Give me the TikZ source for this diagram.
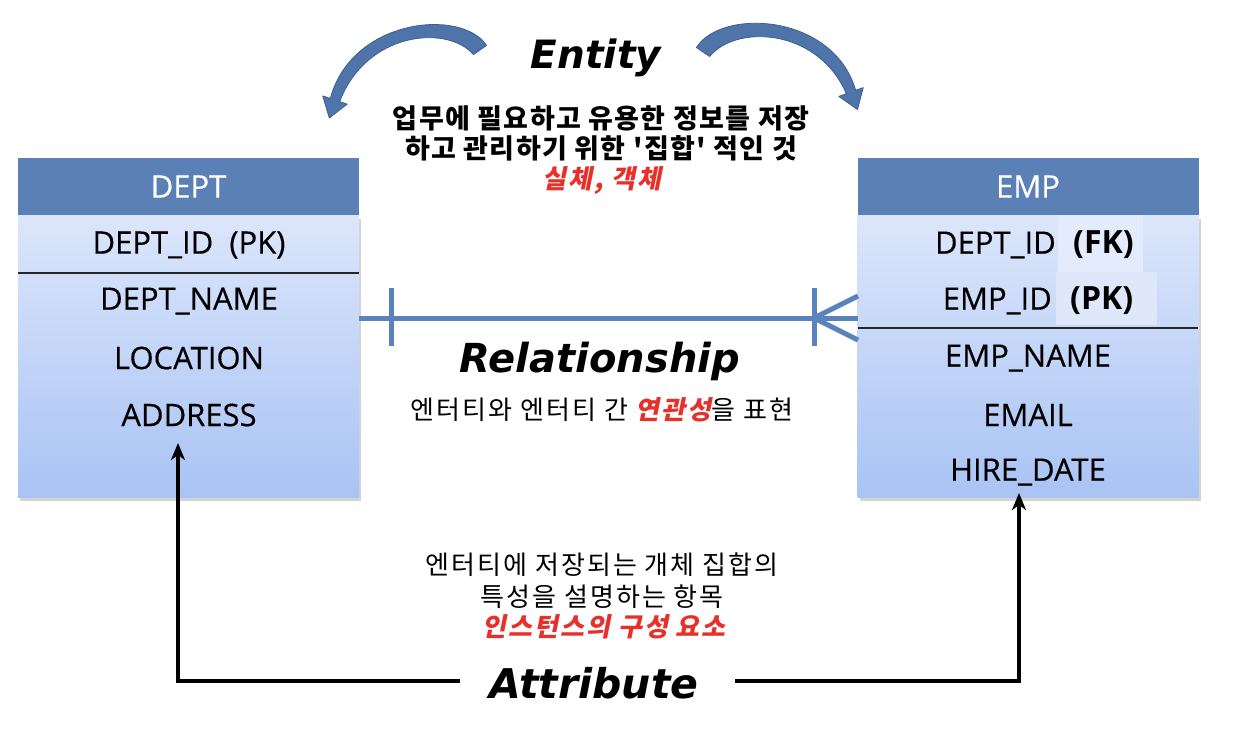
\documentclass[tikz,border=0pt]{standalone}
\usepackage{fontspec}
\setmainfont{Open Sans}
\newfontfamily\rowfont{Open Sans}[FakeBold=0.4]
\newfontfamily\bigfont{DejaVu Sans}
\newfontfamily\kr{Noto Sans CJK KR}[LetterSpace=8]
\newfontfamily\krb{Noto Sans CJK KR}[LetterSpace=5]
\newfontfamily\krsl{Noto Sans CJK KR}[FakeSlant=0.2,LetterSpace=8]
\usetikzlibrary{arrows.meta,shadows}
\definecolor{headblue}{HTML}{5A80B6}
\definecolor{bodytop}{HTML}{DCE6FB}
\definecolor{bodybot}{HTML}{A9C3F4}
\definecolor{relblue}{HTML}{5A83BE}
\definecolor{arrblue}{HTML}{4F74AA}
\definecolor{arredge}{HTML}{3E5F8F}
\definecolor{krred}{HTML}{E8302A}
\tikzset{
  boxbody/.style={minimum width=341pt, minimum height=282pt, inner sep=0pt,
    top color=bodytop, bottom color=bodybot,
    drop shadow={shadow xshift=2pt, shadow yshift=-3pt, opacity=0.35, fill=gray}},
  boxhead/.style={minimum width=341pt, minimum height=57pt, inner sep=0pt, fill=headblue,
    text=white, font=\rowfont\fontsize{31}{34}\selectfont},
  rowtext/.style={inner sep=0pt, font=\rowfont\fontsize{31}{34}\selectfont},
  keytext/.style={inner sep=0pt, font=\fontsize{32}{34}\selectfont\bfseries},
  sepline/.style={line width=1.2pt, draw=black!85},
  relline/.style={draw=relblue, line width=5pt},
  entarrow/.style={fill=arrblue, draw=arredge, line width=0.8pt, line join=round},
  attrarrow/.style={draw=black, line width=3.5pt, -{Stealth[width=14pt,length=17pt,inset=5pt]}},
  bigword/.style={inner sep=0pt},
  krdesc/.style={inner sep=0pt, align=center},
}
\begin{document}
\begin{tikzpicture}[x=1pt,y=-1pt]
\useasboundingbox (0,0) rectangle (1238,732);
% ---------- DEPT ----------
\node[boxbody] (deptbody) at (188.5,356.5) {};
\node[boxhead] (depthead) at (188.5,186.5) {DEPT};
\node[rowtext] (d1) at (189,245) {DEPT\_ID\ \ (PK)};
\draw[sepline] (18,273) -- (359,273);
\node[rowtext] (d2) at (189,301) {DEPT\_NAME};
\node[rowtext] (d3) at (189,358) {LOCATION};
\node[rowtext] (d4) at (189,415) {ADDRESS};
% ---------- EMP ----------
\node[boxbody] (empbody) at (1028,356.5) {};
\node[boxhead] (emphead) at (1028,186.5) {EMP};
\fill[bodytop!80!white] (1058,215) rectangle (1143,272);
\fill[bodytop!92!white] (1056,272) rectangle (1157,325);
\node[rowtext, anchor=east] (e1) at (1056,245) {DEPT\_ID};
\node[keytext, anchor=west] (e1k) at (1073,245) {(FK)};
\node[rowtext, anchor=east] (e2) at (1052,301) {EMP\_ID};
\node[keytext, anchor=west] (e2k) at (1070,301) {(PK)};
\draw[sepline] (858,328) -- (1198,328);
\node[rowtext] (e3) at (1028,358) {EMP\_NAME};
\node[rowtext] (e4) at (1028,415) {EMAIL};
\node[rowtext] (e5) at (1028,472) {HIRE\_DATE};
% ---------- Relationship ----------
\coordinate (r1) at (359,318);
\coordinate (r2) at (858,318);
\coordinate (t1a) at (391,288); \coordinate (t1b) at (391,346);
\coordinate (t2a) at (814,288); \coordinate (t2b) at (814,346);
\coordinate (cf) at (814,318);
\coordinate (cfa) at (858,296); \coordinate (cfb) at (858,340);
\draw[relline] (r1) -- (r2);
\draw[relline] (t1a) -- (t1b);
\draw[relline] (t2a) -- (t2b);
\draw[relline] (cf) -- (cfa);
\draw[relline] (cf) -- (cfb);
\node[bigword, font=\bigfont\fontsize{40}{46}\selectfont\bfseries\itshape] (rel) at (600,361) {Relationship};
\node[krdesc, font=\kr\fontsize{26}{30}\selectfont] (reldesc) at (602,410)
  {엔터티와 엔터티 간 {\krsl\bfseries\color{krred}연관성}을 표현};
% ---------- Entity ----------
\node[bigword, font=\bigfont\fontsize{39}{48}\selectfont\bfseries\itshape] (ent) at (596,58) {Entity};
\node[krdesc, font=\krb\bfseries\fontsize{27}{31}\selectfont] (entdesc1) at (601,118)
  {업무에 필요하고 유용한 정보를 저장};
\node[krdesc, font=\krb\bfseries\fontsize{27}{31}\selectfont] (entdesc2) at (601,148)
  {하고 관리하기 위한 '집합' 적인 것};
\node[krdesc, font=\krsl\bfseries\fontsize{26}{31}\selectfont, text=krred] (entdesc3) at (602,180)
  {실체, 객체};
% curved block arrows
\path[entarrow] (486.5,45.4) .. controls (462,8) and (352,18) .. (330.3,98.4)
  -- (322.7,95.9) -- (329.3,118) -- (347.3,104.1) -- (339.7,101.6)
  .. controls (366,32) and (447,24) .. (473.5,54.6) -- cycle;
\path[entarrow] (696.4,47.5) .. controls (721,8) and (833,13) .. (855.7,90.3)
  -- (863.2,87.6) -- (857.5,109.5) -- (838.8,96.4) -- (846.3,93.7)
  .. controls (818,28) and (736,24) .. (709.6,56.5) -- cycle;
% ---------- Attribute ----------
\node[bigword, font=\bigfont\fontsize{41}{52}\selectfont\bfseries\itshape] (attr) at (594,683) {Attribute};
\node[krdesc, font=\kr\fontsize{26}{31}\selectfont] (ad1) at (602,565) {엔터티에 저장되는 개체 집합의};
\node[krdesc, font=\kr\fontsize{26}{31}\selectfont] (ad2) at (602,597) {특성을 설명하는 항목};
\node[krdesc, font=\krsl\bfseries\fontsize{26}{31}\selectfont, text=krred] (ad3) at (604,627) {인스턴스의 구성 요소};
\coordinate (al0) at (460,681);
\coordinate (alc) at (178,681);
\coordinate (al1) at (178,443);
\coordinate (ar0) at (735,681);
\coordinate (arc) at (1019,681);
\coordinate (ar1) at (1019,493);
\draw[attrarrow] (al0) -- (alc) -- (al1);
\draw[attrarrow] (ar0) -- (arc) -- (ar1);
\end{tikzpicture}
\end{document}
